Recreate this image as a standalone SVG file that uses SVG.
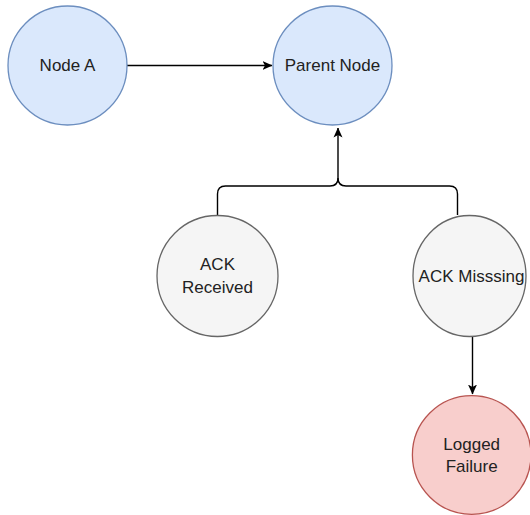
<svg xmlns="http://www.w3.org/2000/svg" width="530" height="515" viewBox="0 0 530 515">
  <defs>
    <marker id="arrow" viewBox="0 0 10 10" refX="9.5" refY="5" markerWidth="10" markerHeight="10" markerUnits="userSpaceOnUse" orient="auto">
      <path d="M0,0.5 L10,5 L0,9.5 L2.5,5 Z" fill="#000"/>
    </marker>
    <style>
      .blue { fill: #dae8fc; stroke: #6c8ebf; stroke-width: 1.3; }
      .gray { fill: #f5f5f5; stroke: #666666; stroke-width: 1.3; }
      .red { fill: #f8cecc; stroke: #b85450; stroke-width: 1.3; }
      .label { font-family: "Liberation Sans", Arial, sans-serif; font-size: 17px; fill: #222; text-anchor: middle; }
      .edge { fill: none; stroke: #000; stroke-width: 1.4; }
    </style>
  </defs>

  <g id="connectors">
    <path class="edge" d="M127 65.5 H272" marker-end="url(#arrow)"/>
    <path class="edge" d="M217.5 215 V194 Q217.5 186 225.5 186 H330 Q338 186 338 178 V128" marker-end="url(#arrow)"/>
    <path class="edge" d="M457.5 215 V194 Q457.5 186 449.5 186 H346 Q338 186 338 178"/>
    <path class="edge" d="M472.5 336 V394" marker-end="url(#arrow)"/>
  </g>

  <g id="node-a">
    <circle class="blue" cx="67.5" cy="65.5" r="59.5"/>
    <text class="label" x="67.5" y="71">Node A</text>
  </g>

  <g id="parent-node">
    <circle class="blue" cx="332.5" cy="65.5" r="59.5"/>
    <text class="label" x="332.5" y="71">Parent Node</text>
  </g>

  <g id="ack-received">
    <circle class="gray" cx="217.5" cy="276" r="60.5"/>
    <text class="label" x="217.5" y="270">ACK</text>
    <text class="label" x="217.5" y="293">Received</text>
  </g>

  <g id="ack-missing">
    <ellipse class="gray" cx="469.5" cy="276" rx="56.5" ry="60.5"/>
    <text class="label" x="471.5" y="281.5">ACK Misssing</text>
  </g>

  <g id="logged-failure">
    <circle class="red" cx="471.7" cy="455" r="59.3"/>
    <text class="label" x="471.7" y="450">Logged</text>
    <text class="label" x="471.7" y="472">Failure</text>
  </g>
</svg>
